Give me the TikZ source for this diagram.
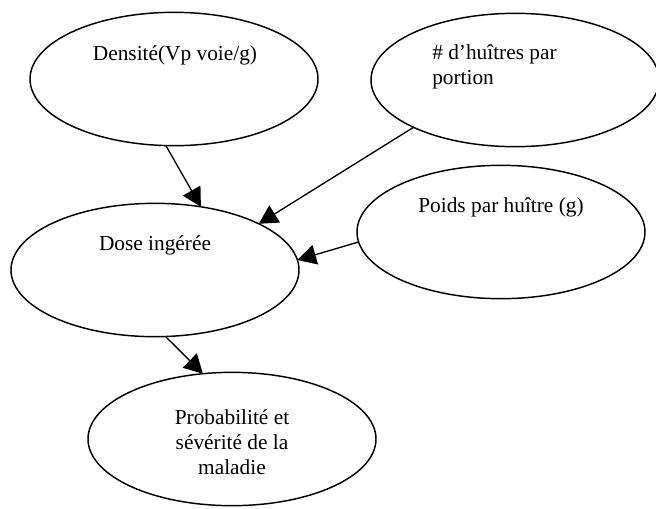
\documentclass[tikz,border=0pt]{standalone}
\usepackage{fontspec}
\setmainfont{Liberation Serif}
\usepackage{tikz}
\usetikzlibrary{positioning}
\usetikzlibrary{arrows.meta}
\usetikzlibrary{shapes.geometric}

\begin{document}
\begin{tikzpicture}[x=0.75pt, y=-0.75pt,
				bubble/.style={ellipse, draw, line width=1.1pt,
						minimum width=216pt, minimum height=100pt,
						inner sep=0pt, outer sep=0pt},
				label/.style={inner sep=0pt,
						font=\fontsize{16}{18.75}\selectfont, align=center},
				link/.style={-{Triangle[length=14pt, width=15pt]}, line width=1pt}
			]
			\useasboundingbox (0,0) rectangle (656,508);

			% Ellipses
			\node[bubble] (dens) at (174,79) {};
			\node[bubble] (huit) at (515,80) {};
			\node[bubble] (dose) at (155,270) {};
			\node[bubble] (poids) at (501,232) {};
			\node[bubble] (prob) at (232,439) {};

			% Texts inside the ellipses
			\node[label] (densT) at (175,55) {Densité(Vp voie/g)};
			\node[label, anchor=west, align=left] (huitT) at (432,67) {\# d’huîtres par\\portion};
			\node[label] (doseT) at (155,245) {Dose ingérée};
			\node[label] (poidsT) at (501,207) {Poids par huître (g)};
			\node[label] (probT) at (232,442) {Probabilité et\\sévérité de la\\maladie};

			% Arrows
			\draw[link] (dens.263) -- (dose.54);
			\draw[link] (huit.205) -- (dose.24);
			\draw[link] (poids.184) -- (dose.4);
			\draw[link] (dose.279) -- (prob.114);

		\end{tikzpicture}
\end{document}
